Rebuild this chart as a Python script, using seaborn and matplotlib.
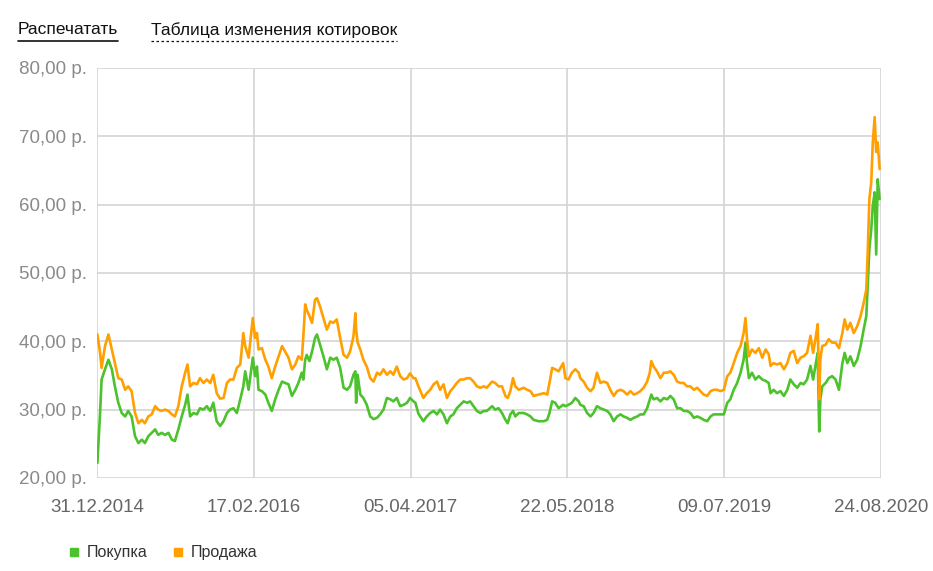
import pandas as pd
import matplotlib
matplotlib.use("Agg")
import matplotlib.pyplot as plt
import matplotlib.dates as mdates
from matplotlib.ticker import FuncFormatter, MultipleLocator
from matplotlib.lines import Line2D
import seaborn as sns

# days counted from 31.12.2014
start = "2014-12-31"
days = [1, 8, 12, 21, 30, 39, 47, 56, 65, 74, 82, 91, 100, 109, 118, 126, 135, 144, 153, 161,
        170, 179, 188, 197, 205, 214, 223, 232, 238, 245, 254, 263, 271, 280, 289, 298, 306, 315,
        324, 333, 342, 350, 359, 368, 377, 385, 390, 399, 410, 416, 421, 425, 434, 443, 451, 460,
        469, 478, 487, 495, 504, 513, 522, 530, 539, 543, 548, 552, 559, 566, 574, 579, 587, 596,
        605, 614, 622, 631, 640, 649, 658, 666, 675, 680, 682, 686, 693, 701, 710, 719, 728, 737,
        745, 754, 763, 772, 780, 789, 798, 807, 816, 824, 833, 838, 846, 859, 868, 877, 886, 895,
        903, 912, 921, 930, 938, 947, 956, 965, 974, 982, 991, 1000, 1009, 1018, 1026, 1040, 1048,
        1057, 1066, 1075, 1081, 1088, 1095, 1101, 1110, 1123, 1132, 1141, 1149, 1162, 1176, 1185,
        1191, 1198, 1206, 1215, 1227, 1233, 1241, 1250, 1259, 1268, 1272, 1281, 1290, 1299, 1307,
        1316, 1325, 1334, 1343, 1351, 1360, 1369, 1378, 1386, 1395, 1404, 1413, 1422, 1430, 1439,
        1448, 1455, 1459, 1465, 1474, 1483, 1492, 1501, 1509, 1518, 1527, 1536, 1544, 1553, 1562,
        1571, 1580, 1588, 1597, 1606, 1615, 1623, 1632, 1641, 1650, 1659, 1667, 1676, 1685, 1694,
        1702, 1707, 1711, 1716, 1724, 1733, 1742, 1751, 1760, 1768, 1773, 1781, 1790, 1799, 1808,
        1817, 1825, 1834, 1843, 1852, 1860, 1869, 1878, 1885, 1891, 1897, 1901, 1904, 1909, 1918,
        1926, 1935, 1944, 1953, 1962, 1968, 1975, 1983, 1992, 2001, 2010, 2018, 2025, 2029, 2033,
        2038, 2042, 2047, 2051, 2055, 2060]

# Покупка (buy)
buy = [22.2, 29.5, 34.4, 35.9, 37.3, 35.9, 33.4, 31.0, 29.5, 29.0, 29.8, 29.0, 26.1, 25.1, 25.6,
       25.1, 26.1, 26.6, 27.1, 26.3, 26.6, 26.3, 26.6, 25.6, 25.4, 27.1, 29.0, 30.7, 32.2, 29.0,
       29.5, 29.3, 30.2, 30.0, 30.5, 29.8, 31.0, 28.3, 27.6, 28.3, 29.5, 30.0, 30.2, 29.5, 31.5,
       33.4, 35.6, 32.9, 37.6, 34.9, 36.3, 32.9, 32.7, 32.2, 31.0, 29.8, 31.5, 32.9, 34.1, 33.9,
       33.7, 32.0, 32.9, 33.9, 35.4, 34.4, 37.3, 38.0, 37.1, 38.5, 40.5, 41.0, 39.5, 37.8, 35.9,
       37.6, 37.3, 37.6, 36.1, 33.2, 32.9, 33.4, 35.1, 35.6, 31.0, 35.1, 32.2, 31.7, 30.7, 29.0,
       28.6, 28.8, 29.3, 30.0, 31.7, 31.5, 31.2, 31.7, 30.5, 30.7, 31.0, 31.7, 31.2, 31.0, 29.4,
       28.3, 29.0, 29.5, 29.8, 29.3, 30.0, 29.3, 28.0, 29.0, 29.3, 30.2, 30.7, 31.2, 31.0, 31.2,
       30.5, 29.8, 29.5, 29.8, 29.8, 30.5, 30.0, 30.2, 29.5, 28.5, 28.0, 29.3, 29.8, 29.0, 29.5,
       29.5, 29.3, 29.0, 28.5, 28.3, 28.3, 28.5, 29.5, 31.2, 31.0, 30.2, 30.7, 30.5, 30.7, 31.0,
       31.7, 31.2, 30.7, 30.5, 29.5, 29.0, 29.5, 30.5, 30.2, 30.0, 29.8, 29.3, 28.3, 29.0, 29.3,
       29.0, 28.8, 28.5, 28.8, 29.0, 29.3, 29.3, 30.2, 31.5, 32.2, 31.5, 31.7, 31.2, 31.7, 31.5,
       32.0, 31.5, 30.2, 30.2, 29.8, 29.8, 29.5, 28.8, 29.0, 28.8, 28.5, 28.3, 29.0, 29.3, 29.3,
       29.3, 29.3, 31.0, 31.5, 32.9, 33.9, 35.4, 37.3, 39.8, 36.8, 34.6, 35.4, 34.4, 34.9, 34.4,
       34.2, 33.9, 32.4, 32.9, 32.4, 32.7, 32.0, 32.9, 34.4, 33.7, 33.2, 33.9, 33.7, 34.4, 36.4,
       34.4, 36.4, 38.3, 26.8, 31.5, 33.4, 33.9, 34.6, 34.9, 34.4, 32.9, 36.8, 38.3, 36.8, 37.8,
       36.4, 37.3, 39.3, 41.7, 43.7, 48.6, 53.5, 56.4, 59.8, 61.8, 52.7, 63.7, 60.8]

# Продажа (sell)
sell = [41.0, 38.3, 36.1, 39.3, 41.0, 38.8, 36.8, 34.6, 34.4, 32.9, 33.4, 32.7, 29.5, 28.0, 28.5,
        28.0, 29.0, 29.3, 30.5, 30.0, 29.8, 30.0, 29.8, 29.3, 29.0, 30.5, 33.4, 35.4, 36.6, 33.4,
        33.9, 33.7, 34.6, 33.9, 34.4, 33.9, 35.1, 32.4, 31.6, 31.7, 33.9, 34.4, 34.4, 36.1, 36.6,
        41.2, 39.3, 37.6, 43.4, 40.5, 41.2, 38.8, 39.0, 37.3, 36.3, 34.6, 36.3, 37.8, 39.3, 38.5,
        37.6, 35.9, 36.6, 37.8, 37.3, 40.7, 45.4, 44.6, 43.7, 42.7, 46.1, 46.3, 45.1, 43.4, 41.7,
        42.9, 42.7, 43.2, 40.5, 38.0, 37.6, 38.5, 40.7, 44.1, 41.7, 39.8, 38.8, 37.3, 36.3, 34.6,
        34.1, 35.4, 35.1, 35.9, 35.1, 35.6, 35.1, 36.3, 34.9, 34.4, 34.6, 35.3, 34.6, 34.6, 33.4,
        31.7, 32.4, 32.9, 33.7, 34.1, 32.9, 33.7, 31.7, 32.7, 33.2, 33.9, 34.4, 34.4, 34.6, 34.6,
        34.1, 33.4, 33.2, 33.4, 33.2, 34.1, 33.9, 33.4, 33.4, 32.0, 31.7, 32.7, 34.6, 33.4, 32.9,
        33.2, 32.9, 32.7, 32.0, 32.2, 32.4, 32.2, 33.9, 36.1, 35.9, 35.6, 36.8, 34.6, 34.4, 35.4,
        35.9, 35.4, 34.6, 34.1, 33.2, 32.7, 33.2, 35.4, 33.9, 34.1, 33.9, 32.9, 32.0, 32.7, 32.9,
        32.7, 32.2, 32.7, 32.2, 32.4, 32.7, 33.2, 34.1, 35.4, 37.1, 36.3, 35.6, 34.6, 35.4, 35.4,
        35.6, 35.1, 34.1, 33.9, 33.9, 33.4, 33.4, 32.9, 33.2, 32.7, 32.2, 32.0, 32.7, 32.9, 32.9,
        32.7, 32.9, 34.9, 35.4, 36.8, 38.3, 39.3, 41.2, 43.4, 40.3, 37.8, 38.8, 38.3, 39.0, 37.6,
        38.8, 38.1, 36.4, 36.8, 36.6, 36.8, 35.9, 36.8, 38.3, 38.6, 36.8, 37.6, 37.8, 38.3, 40.8,
        38.3, 40.3, 42.5, 31.5, 37.3, 39.3, 39.5, 40.3, 39.8, 39.8, 39.0, 41.2, 43.2, 41.7, 42.7,
        41.2, 42.2, 43.7, 45.6, 47.6, 53.5, 60.8, 63.3, 69.1, 72.8, 67.7, 69.1, 65.2]

tick_dates = ["2014-12-31", "2016-02-17", "2017-04-05", "2018-05-22", "2019-07-09", "2020-08-24"]
series_names = ["Покупка", "Продажа"]
colors = ["#4cc22c", "#ffa000"]

dates = pd.Timestamp(start) + pd.to_timedelta(days, unit="D")
df = pd.DataFrame({
    "date": list(dates) * 2,
    "value": buy + sell,
    "series": [series_names[0]] * len(days) + [series_names[1]] * len(days),
})

sns.set_style("white")
plt.rcParams["font.family"] = ["Liberation Sans", "DejaVu Sans"]

fig = plt.figure(figsize=(9.33, 5.71), dpi=100)
ax = fig.add_axes([0.104, 0.163, 0.840, 0.718])

sns.lineplot(data=df, x="date", y="value", hue="series", palette=colors,
             linewidth=1.9, estimator=None, legend=False, ax=ax)

ax.set_xlim(pd.Timestamp(tick_dates[0]), pd.Timestamp(tick_dates[-1]))
ax.set_xticks(pd.to_datetime(tick_dates))
ax.xaxis.set_major_formatter(mdates.DateFormatter("%d.%m.%Y"))
ax.set_ylim(20, 80)
ax.yaxis.set_major_locator(MultipleLocator(10))
ax.yaxis.set_major_formatter(FuncFormatter(lambda v, p: f"{v:.2f}".replace(".", ",") + " р."))
ax.set_xlabel("")
ax.set_ylabel("")

ax.grid(True, color="#d4d4d4", linewidth=1.2)
ax.set_axisbelow(True)
for s in ax.spines.values():
    s.set_visible(False)
ax.tick_params(axis="x", length=5, width=1, color="#d4d4d4", labelsize=13.5,
               labelcolor="#666666", pad=10)
ax.tick_params(axis="y", length=4, width=1, color="#bbbbbb", labelsize=13.5,
               labelcolor="#8a8a8a", pad=3)

# header links
t1 = fig.text(18 / 933, 1 - 30 / 571, "Распечатать", fontsize=12.5, color="#111111", va="center")
t2 = fig.text(151 / 933, 1 - 30 / 571, "Таблица изменения котировок", fontsize=12.5,
              color="#111111", va="center")
fig.canvas.draw()
r = fig.canvas.get_renderer()
for t, ls in [(t1, "-"), (t2, (0, (2, 2)))]:
    bb = t.get_window_extent(r).transformed(fig.transFigure.inverted())
    fig.add_artist(Line2D([bb.x0, bb.x1], [bb.y0 - 0.006, bb.y0 - 0.006],
                          transform=fig.transFigure, color="#111111",
                          linewidth=1.2 if ls == "-" else 0.9, linestyle=ls))

handles = [Line2D([], [], marker="s", color=c, linestyle="none", markersize=5.8) for c in colors]
leg = fig.legend(handles, series_names, loc="center left",
                 bbox_to_anchor=(52 / 933, 1 - 553 / 571), ncol=2, frameon=False,
                 fontsize=11.5, handletextpad=0.3, columnspacing=1.4, handlelength=1.0)
for txt in leg.get_texts():
    txt.set_color("#333333")

fig.savefig("out.png", dpi=100)
